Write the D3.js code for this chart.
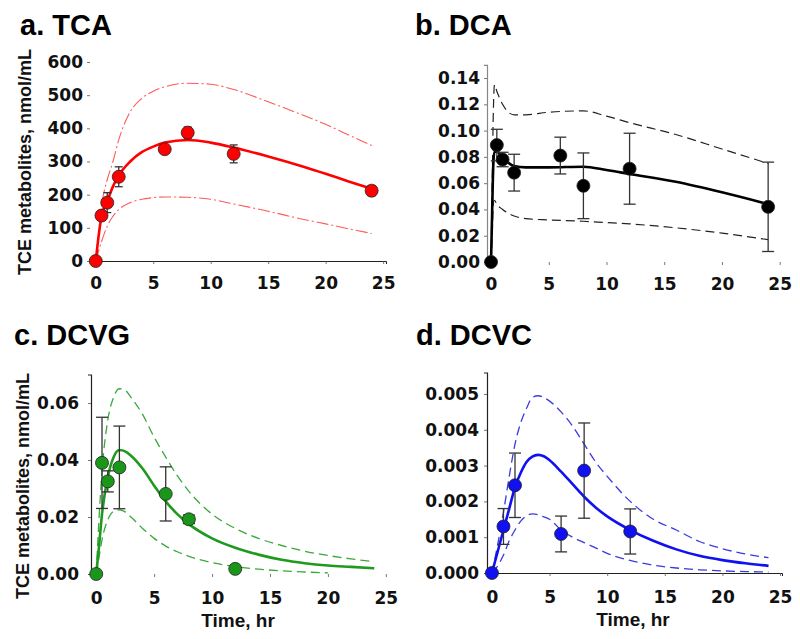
<!DOCTYPE html>
<html>
<head>
<meta charset="utf-8">
<script src="https://cdn.jsdelivr.net/npm/d3@7"></script>
<style>
  body { margin: 0; background: #fff; }
  svg { display: block; font-family: "Liberation Sans", Arial, sans-serif; }
</style>
</head>
<body>
<svg id="chart" width="800" height="639"></svg>
<script>

// a. TCA
var tcaObsT = [0, 0.5, 1, 2, 6, 8, 12, 24]
var tcaObs = [0, 137, 176, 254, 337, 387, 323, 212]
var tcaSd = [0, 14, 30, 30, 4, 17, 27, 15]
var tcaT = [0, 0.25, 0.5, 1, 1.5, 2, 3, 4, 5, 6, 8, 10, 12, 15, 18, 20, 22, 24]
var tcaMid = [0, 75, 135, 180, 225, 258, 300, 328, 345, 357, 365, 357, 342, 315, 285, 263, 240, 218]
var tcaUpper = [0, 85, 165, 245, 300, 365, 450, 490, 512, 525, 536, 533, 517, 480, 440, 412, 380, 348]
var tcaLower = [0, 30, 58, 105, 135, 155, 176, 186, 191, 193, 192, 186, 172, 150, 126, 112, 97, 83]

// b. DCA
var dcaObsT = [0, 0.5, 1, 2, 6, 8, 12, 24]
var dcaObs = [0, 0.089, 0.078, 0.068, 0.081, 0.058, 0.071, 0.042]
var dcaSd = [0, 0.012, 0.0055, 0.014, 0.014, 0.025, 0.027, 0.034]
var dcaT = [0, 0.1, 0.2, 0.3, 0.5, 1, 1.5, 2, 3, 5, 8, 10, 12, 16, 20, 24]
var dcaMid = [0, 0.04, 0.075, 0.084, 0.084, 0.08, 0.0755, 0.073, 0.072, 0.072, 0.0725, 0.070, 0.067, 0.061, 0.053, 0.044]
var dcaUpper = [0, 0.06, 0.115, 0.135, 0.130, 0.12, 0.114, 0.112, 0.112, 0.114, 0.115, 0.111, 0.106, 0.097, 0.086, 0.075]
var dcaLower = [0, 0.02, 0.045, 0.047, 0.044, 0.040, 0.037, 0.035, 0.033, 0.032, 0.031, 0.030, 0.029, 0.026, 0.022, 0.017]

// c. DCVG
var dcvgObsT = [0, 0.5, 1, 2, 6, 8, 12]
var dcvgObs = [0, 0.039, 0.0325, 0.0374, 0.0281, 0.0192, 0.0018]
var dcvgSd = [0, 0.016, 0.0037, 0.0145, 0.0095, 0.0015, 0]
var dcvgT = [0, 0.25, 0.5, 1, 1.5, 2, 2.5, 3, 4, 5, 6, 7, 8, 10, 12, 14, 16, 18, 20, 22, 24]
var dcvgMid = [0, 0.010, 0.021, 0.034, 0.041, 0.0435, 0.043, 0.0415, 0.037, 0.031, 0.0255, 0.021, 0.0175, 0.0125, 0.0092, 0.0068, 0.005, 0.0038, 0.003, 0.0025, 0.002]
var dcvgUpper = [0, 0.02, 0.036, 0.054, 0.062, 0.065, 0.0645, 0.062, 0.056, 0.048, 0.041, 0.0345, 0.029, 0.021, 0.016, 0.0125, 0.010, 0.008, 0.0065, 0.0053, 0.0043]
var dcvgLower = [0, 0.006, 0.012, 0.019, 0.022, 0.0225, 0.0218, 0.020, 0.016, 0.0125, 0.0098, 0.0078, 0.0062, 0.004, 0.0026, 0.0017, 0.0011, 0.0007, 0.0004, null, null]

// d. DCVC
var dcvcObsT = [0, 1, 2, 6, 8, 12]
var dcvcObs = [0, 0.0013, 0.00245, 0.00109, 0.00286, 0.00116]
var dcvcSd = [0, 0.0005, 0.0009, 0.0005, 0.00133, 0.00063]
var dcvcT = [0, 0.5, 1, 1.5, 2, 2.5, 3, 3.5, 4, 4.5, 5, 6, 7, 8, 9, 10, 12, 14, 16, 18, 20, 22, 24]
var dcvcMid = [0, 0.0006, 0.0012, 0.0018, 0.0024, 0.0028, 0.0031, 0.00325, 0.0033, 0.00326, 0.00315, 0.00283, 0.00248, 0.00213, 0.00183, 0.00158, 0.0012, 0.0009, 0.00066, 0.00048, 0.00036, 0.00027, 0.0002]
var dcvcUpper = [0, 0.0008, 0.0017, 0.0027, 0.0036, 0.0042, 0.0046, 0.0049, 0.00495, 0.0049, 0.0048, 0.0045, 0.0041, 0.0036, 0.0031, 0.0027, 0.0020, 0.0015, 0.0012, 0.00088, 0.00068, 0.00053, 0.00043]
var dcvcLower = [0, 0.0002, 0.0005, 0.0009, 0.0012, 0.00145, 0.0016, 0.00165, 0.00163, 0.00157, 0.0015, 0.0012, 0.001, 0.00085, 0.0007, 0.00055, 0.00035, 0.00022, 0.00014, 0.00009, 0.00006, 0.00004, 0.00003]

var xTicks = [0, 5, 10, 15, 20, 25]
var yLabel = "TCE metabolites, nmol/mL"
var xLabel = "Time, hr"

var svg = d3.select("#chart")

/** draw one panel */
function drawPanel(p) {
  var x = d3.scaleLinear().domain(p.xDomain).range(p.xRange)
  var y = d3.scaleLinear().domain(p.yDomain).range(p.yRange)
  var g = svg.append("g")

  // axes
  var xAxis = d3.axisBottom(x).tickValues(xTicks).tickSize(3).tickPadding(p.xPad)
  var gx = g.append("g").attr("transform", "translate(0," + p.yRange[0] + ")").call(xAxis)
  var yAxis = d3.axisLeft(y).tickValues(p.yTicks).tickFormat(d3.format(p.fmt)).tickSize(3).tickPadding(p.yPad)
  var gy = g.append("g").attr("transform", "translate(" + p.xRange[0] + ",0)").call(yAxis)

  gx.select(".domain").attr("stroke", p.xLine ? "#222" : "none").attr("stroke-width", 1)
  gy.select(".domain").attr("stroke", p.yLine ? p.yLineColor : "none").attr("stroke-width", 1.2)
  g.selectAll(".tick line").attr("stroke", "#555").attr("stroke-width", 0.8)
  g.selectAll(".tick text").attr("font-size", 17).attr("font-weight", "bold").attr("fill", "#111")
    .attr("font-family", "DejaVu Sans, Verdana, sans-serif")

  // model curves
  var line = d3.line()
    .defined(function(d) { return d[1] != null })
    .x(function(d) { return x(d[0]) })
    .y(function(d) { return y(d[1]) })
    .curve(d3.curveMonotoneX)

  var bands = [p.upper, p.lower]
  bands.forEach(function(vals) {
    g.append("path")
      .datum(p.t.map(function(t, i) { return [t, vals[i]] }))
      .attr("d", line)
      .attr("fill", "none")
      .attr("stroke", p.dashColor)
      .attr("stroke-width", p.dashWidth)
      .attr("stroke-dasharray", p.dash)
  })
  g.append("path")
    .datum(p.t.map(function(t, i) { return [t, p.mid[i]] }))
    .attr("d", line)
    .attr("fill", "none")
    .attr("stroke", p.color)
    .attr("stroke-width", 2.6)

  // error bars
  var obs = p.obsT.map(function(t, i) { return { t: t, v: p.obs[i], sd: p.sd[i] } })
  var eb = g.append("g").attr("stroke", "#333").attr("stroke-width", 1.3)
  obs.filter(function(d) { return d.sd > 0 }).forEach(function(d) {
    var cx = x(d.t)
    var y1 = y(d.v + d.sd), y2 = y(Math.max(0, d.v - d.sd))
    eb.append("line").attr("x1", cx).attr("x2", cx).attr("y1", y1).attr("y2", y2)
    eb.append("line").attr("x1", cx - p.cap).attr("x2", cx + p.cap).attr("y1", y1).attr("y2", y1)
    eb.append("line").attr("x1", cx - p.cap).attr("x2", cx + p.cap).attr("y1", y2).attr("y2", y2)
  })

  // points
  g.selectAll("circle.pt").data(obs).enter().append("circle")
    .attr("class", "pt")
    .attr("cx", function(d) { return x(d.t) })
    .attr("cy", function(d) { return y(d.v) })
    .attr("r", 6.5)
    .attr("fill", p.pointColor)
    .attr("stroke", "#222")
    .attr("stroke-width", 0.8)

  // title
  svg.append("text").attr("x", p.titleX).attr("y", p.titleY)
    .attr("font-size", 29).attr("font-weight", "bold").attr("fill", "#000")
    .text(p.title)

  if (p.showY) {
    svg.append("text")
      .attr("transform", "translate(" + p.yLabX + "," + p.yLabY + ") rotate(-90)")
      .attr("text-anchor", "middle").attr("dy", "0.35em")
      .attr("font-size", 18).attr("font-weight", "bold").attr("fill", "#111")
      .text(yLabel)
  }
  if (p.showX) {
    svg.append("text")
      .attr("x", (x(0) + x(25)) / 2 - 3).attr("y", p.yRange[0] + 46)
      .attr("text-anchor", "middle").attr("dy", "0.35em")
      .attr("font-size", 19).attr("font-weight", "bold").attr("fill", "#111")
      .text(xLabel)
  }
}

drawPanel({
  title: "a. TCA", titleX: 20, titleY: 35,
  xDomain: [-0.5, 25.25], xRange: [90, 386],
  yDomain: [0, 600], yRange: [261, 62],
  yTicks: [0, 100, 200, 300, 400, 500, 600], fmt: "d",
  xPad: 13, yPad: 4, xLine: true, yLine: false,
  t: tcaT, mid: tcaMid, upper: tcaUpper, lower: tcaLower,
  obsT: tcaObsT, obs: tcaObs, sd: tcaSd,
  color: "#ff0000", pointColor: "#ff0000", dashColor: "#ff5a5a", dashWidth: 1.1, dash: "12,3,2,3",
  cap: 4, showY: true, yLabX: 25, yLabY: 162, showX: false
})

drawPanel({
  title: "b. DCA", titleX: 415, titleY: 35,
  xDomain: [-0.35, 25.2], xRange: [487, 782],
  yDomain: [0, 0.15], yRange: [262, 64.9],
  yTicks: [0, 0.02, 0.04, 0.06, 0.08, 0.1, 0.12, 0.14], fmt: ".2f",
  xPad: 13, yPad: 4, xLine: false, yLine: true, yLineColor: "#888",
  t: dcaT, mid: dcaMid, upper: dcaUpper, lower: dcaLower,
  obsT: dcaObsT, obs: dcaObs, sd: dcaSd,
  color: "#000", pointColor: "#000", dashColor: "#222", dashWidth: 1.2, dash: "9,5",
  cap: 6, showY: false, showX: false
})

drawPanel({
  title: "c. DCVG", titleX: 14, titleY: 345,
  xDomain: [-0.45, 25.1], xRange: [91, 387],
  yDomain: [0, 0.07], yRange: [574, 374.5],
  yTicks: [0, 0.02, 0.04, 0.06], fmt: ".2f",
  xPad: 15, yPad: 9, xLine: false, yLine: true, yLineColor: "#222",
  t: dcvgT, mid: dcvgMid, upper: dcvgUpper, lower: dcvgLower,
  obsT: dcvgObsT, obs: dcvgObs, sd: dcvgSd,
  color: "#1e9a1e", pointColor: "#1a961a", dashColor: "#3aa83a", dashWidth: 1.3, dash: "9,5",
  cap: 6, showY: true, yLabX: 23, yLabY: 486, showX: true
})

drawPanel({
  title: "d. DCVC", titleX: 416, titleY: 345,
  xDomain: [-0.43, 25.17], xRange: [487, 782],
  yDomain: [0, 0.0056], yRange: [573, 372.5],
  yTicks: [0, 0.001, 0.002, 0.003, 0.004, 0.005], fmt: ".3f",
  xPad: 15, yPad: 5, xLine: true, yLine: true, yLineColor: "#222",
  t: dcvcT, mid: dcvcMid, upper: dcvcUpper, lower: dcvcLower,
  obsT: dcvcObsT, obs: dcvcObs, sd: dcvcSd,
  color: "#1010f0", pointColor: "#1010f0", dashColor: "#3a3ae0", dashWidth: 1.3, dash: "9,5",
  cap: 6, showY: false, showX: true
})
</script>
</body>
</html>
